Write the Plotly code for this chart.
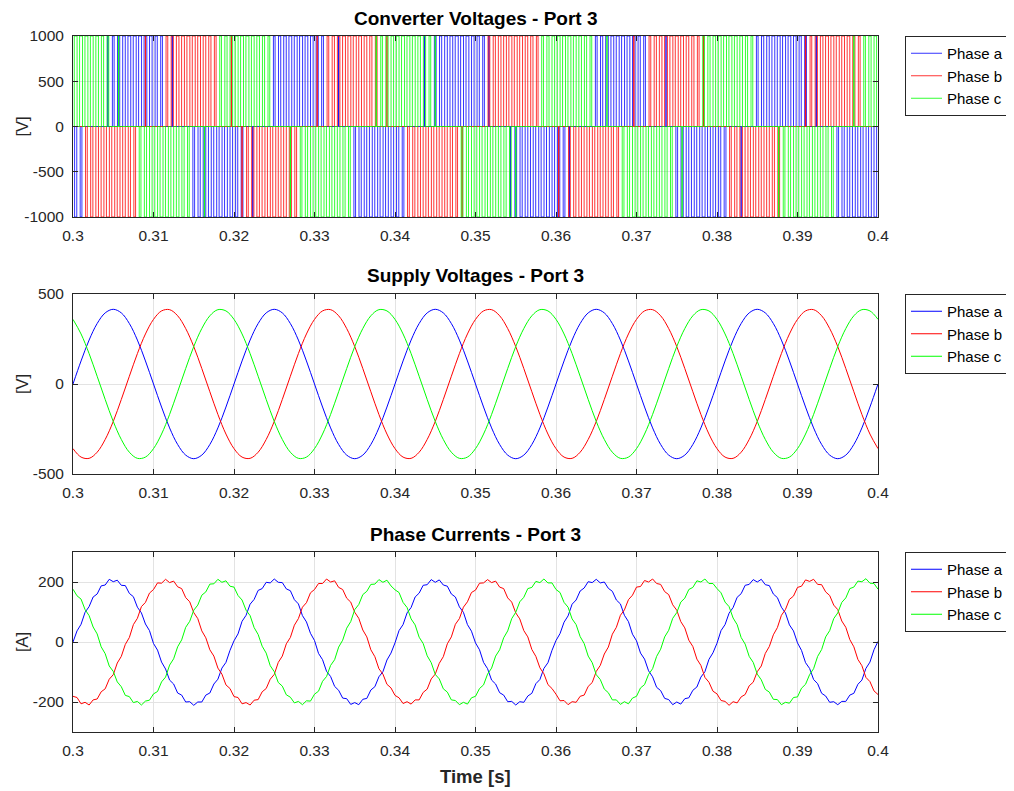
import numpy as np
import plotly.graph_objects as go

# ---------------- data ----------------
PHASES = ["Phase a", "Phase b", "Phase c"]
COLORS = ["#0000FF", "#FF0000", "#00FF00"]
T_START, T_END = 0.3, 0.4
X_TICKS = [0.3, 0.31, 0.32, 0.33, 0.34, 0.35, 0.36, 0.37, 0.38, 0.39, 0.4]
X_TICK_LABELS = ["0.3", "0.31", "0.32", "0.33", "0.34", "0.35", "0.36", "0.37", "0.38", "0.39", "0.4"]

# Converter voltages: 3-level PWM, carrier period and signed duty per carrier period
V_LEVEL = 1000
T_SW = 1 / 1500
duty_a = [
    -0.41, -0.32, 0, 0, 0, 0, 0.05, 0.32, 0.41, 0.48, 0.52, 0.55, 0.55, 0.52, 0.48, 0.41, 0.32, 0, 0.06, 0, 0, 0, -0.32, -0.41, -0.48, -0.52, -0.55, -0.55, -0.52, -0.48,
    -0.40, -0.33, 0, -0.05, 0, 0, 0, 0.31, 0.42, 0.47, 0.53, 0.54, 0.56, 0.51, 0.49, 0.40, 0.33, 0, 0, 0.05, 0, 0, -0.31, -0.42, -0.47, -0.53, -0.54, -0.56, -0.51, -0.49,
    -0.42, -0.31, 0, 0, 0, 0.06, 0, 0.33, 0.40, 0.49, 0.51, 0.56, 0.54, 0.53, 0.47, 0.42, 0.31, 0.05, 0, 0, 0, -0.06, -0.33, -0.40, -0.49, -0.51, -0.56, -0.54, -0.53, -0.47,
    -0.41, -0.32, -0.06, 0, 0, 0, 0, 0.32, 0.41, 0.48, 0.52, 0.55, 0.55, 0.52, 0.48, 0.41, 0.32, 0, 0, 0, 0.05, 0, -0.32, -0.41, -0.48, -0.52, -0.55, -0.55, -0.52, -0.48,
    -0.40, -0.33, 0, 0, -0.05, 0, 0, 0.31, 0.42, 0.47, 0.53, 0.54, 0.56, 0.51, 0.49, 0.40, 0.33, 0, 0.06, 0, 0, 0, -0.31, -0.42, -0.47, -0.53, -0.54, -0.56, -0.51, -0.49,
]
duty_b = [
    0, 0, -0.32, -0.41, -0.48, -0.52, -0.55, -0.55, -0.52, -0.48, -0.41, -0.32, 0, 0.05, 0, 0, 0, 0.32, 0.41, 0.48, 0.52, 0.55, 0.55, 0.52, 0.48, 0.41, 0.32, 0, 0, 0.06,
    0, -0.05, -0.31, -0.42, -0.47, -0.53, -0.54, -0.56, -0.51, -0.49, -0.40, -0.33, 0, 0, 0, 0.06, 0, 0.31, 0.42, 0.47, 0.53, 0.54, 0.56, 0.51, 0.49, 0.40, 0.33, 0, 0.05, 0,
    0, 0, -0.33, -0.40, -0.49, -0.51, -0.56, -0.54, -0.53, -0.47, -0.42, -0.31, -0.06, 0, 0, 0, 0, 0.33, 0.40, 0.49, 0.51, 0.56, 0.54, 0.53, 0.47, 0.42, 0.31, 0, 0, 0,
    -0.05, 0, -0.32, -0.41, -0.48, -0.52, -0.55, -0.55, -0.52, -0.48, -0.41, -0.32, 0, 0, 0.05, 0, 0, 0.32, 0.41, 0.48, 0.52, 0.55, 0.55, 0.52, 0.48, 0.41, 0.32, 0.06, 0, 0,
    0, 0, -0.31, -0.42, -0.47, -0.53, -0.54, -0.56, -0.51, -0.49, -0.40, -0.33, 0, 0, 0, 0, 0.05, 0.31, 0.42, 0.47, 0.53, 0.54, 0.56, 0.51, 0.49, 0.40, 0.33, 0, 0, 0,
]
duty_c = [
    0.52, 0.55, 0.55, 0.52, 0.48, 0.41, 0.32, 0, 0.05, 0, 0, 0, -0.32, -0.41, -0.48, -0.52, -0.55, -0.55, -0.52, -0.48, -0.41, -0.32, 0, 0, -0.06, 0, 0, 0.32, 0.41, 0.48,
    0.53, 0.54, 0.56, 0.51, 0.49, 0.40, 0.33, 0, 0, 0, -0.05, 0, -0.31, -0.42, -0.47, -0.53, -0.54, -0.56, -0.51, -0.49, -0.40, -0.33, 0, 0, 0, 0, 0.06, 0.31, 0.42, 0.47,
    0.51, 0.56, 0.54, 0.53, 0.47, 0.42, 0.31, 0.06, 0, 0, 0, 0, -0.33, -0.40, -0.49, -0.51, -0.56, -0.54, -0.53, -0.47, -0.42, -0.31, -0.05, 0, 0, 0, 0, 0.33, 0.40, 0.49,
    0.52, 0.55, 0.55, 0.52, 0.48, 0.41, 0.32, 0, 0, 0.05, 0, 0, -0.32, -0.41, -0.48, -0.52, -0.55, -0.55, -0.52, -0.48, -0.41, -0.32, 0, -0.05, 0, 0, 0, 0.32, 0.41, 0.48,
    0.53, 0.54, 0.56, 0.51, 0.49, 0.40, 0.33, 0, 0, 0, 0, -0.06, -0.31, -0.42, -0.47, -0.53, -0.54, -0.56, -0.51, -0.49, -0.40, -0.33, 0, 0, 0, 0.05, 0, 0.31, 0.42, 0.47,
]

# Supply voltages, sampled every 1 ms from 0.3 s to 0.4 s
t_supply = np.linspace(T_START, T_END, 101)
vs_a = [0, 128, 244, 336, 395, 415, 395, 336, 244, 128, 0, -128, -244, -336, -395, -415, -395, -336, -244, -128,
        0, 128, 244, 336, 395, 415, 395, 336, 244, 128, 0, -128, -244, -336, -395, -415, -395, -336, -244, -128,
        0, 128, 244, 336, 395, 415, 395, 336, 244, 128, 0, -128, -244, -336, -395, -415, -395, -336, -244, -128,
        0, 128, 244, 336, 395, 415, 395, 336, 244, 128, 0, -128, -244, -336, -395, -415, -395, -336, -244, -128,
        0, 128, 244, 336, 395, 415, 395, 336, 244, 128, 0, -128, -244, -336, -395, -415, -395, -336, -244, -128, 0]
vs_b = [-359, -406, -413, -379, -308, -208, -86, 43, 169, 278, 359, 406, 413, 379, 308, 208, 86, -43, -169, -278,
        -359, -406, -413, -379, -308, -208, -86, 43, 169, 278, 359, 406, 413, 379, 308, 208, 86, -43, -169, -278,
        -359, -406, -413, -379, -308, -208, -86, 43, 169, 278, 359, 406, 413, 379, 308, 208, 86, -43, -169, -278,
        -359, -406, -413, -379, -308, -208, -86, 43, 169, 278, 359, 406, 413, 379, 308, 208, 86, -43, -169, -278,
        -359, -406, -413, -379, -308, -208, -86, 43, 169, 278, 359, 406, 413, 379, 308, 208, 86, -43, -169, -278, -359]
vs_c = [359, 278, 169, 43, -86, -208, -308, -379, -413, -406, -359, -278, -169, -43, 86, 208, 308, 379, 413, 406,
        359, 278, 169, 43, -86, -208, -308, -379, -413, -406, -359, -278, -169, -43, 86, 208, 308, 379, 413, 406,
        359, 278, 169, 43, -86, -208, -308, -379, -413, -406, -359, -278, -169, -43, 86, 208, 308, 379, 413, 406,
        359, 278, 169, 43, -86, -208, -308, -379, -413, -406, -359, -278, -169, -43, 86, 208, 308, 379, 413, 406,
        359, 278, 169, 43, -86, -208, -308, -379, -413, -406, -359, -278, -169, -43, 86, 208, 308, 379, 413, 406, 359]

# Phase currents, sampled every 0.5 ms from 0.3 s to 0.4 s
t_current = np.linspace(T_START, T_END, 201)
i_a = [0, 37, 59, 99, 118, 150, 160, 187, 190, 209, 201, 206, 189, 188, 162, 151, 116, 97, 60, 38,
       -5, -27, -67, -90, -127, -140, -170, -177, -200, -199, -211, -200, -200, -177, -170, -140, -124, -87, -68, -28,
       4, 27, 69, 89, 126, 142, 172, 178, 199, 197, 210, 199, 198, 177, 171, 141, 127, 88, 67, 29,
       5, -38, -59, -98, -115, -148, -161, -187, -189, -208, -202, -209, -191, -188, -160, -149, -116, -99, -60, -37,
       -3, 38, 58, 97, 115, 150, 163, 189, 191, 208, 199, 207, 190, 186, 160, 150, 117, 99, 58, 36,
       -3, -26, -68, -89, -127, -140, -169, -177, -199, -198, -210, -199, -201, -180, -171, -139, -125, -88, -69, -28,
       5, 28, 66, 87, 126, 140, 170, 180, 201, 198, 209, 197, 200, 179, 169, 140, 127, 89, 68, 26,
       4, -37, -57, -96, -116, -151, -162, -188, -192, -209, -200, -207, -189, -186, -161, -150, -117, -99, -58, -36,
       -4, 38, 58, 96, 115, 149, 161, 189, 192, 208, 200, 209, 191, 188, 160, 148, 116, 97, 57, 37,
       -3, -28, -69, -88, -125, -139, -171, -180, -201, -199, -209, -198, -198, -177, -171, -141, -127, -88, -67, -26,
       2]
i_b = [-181, -185, -206, -201, -210, -193, -190, -166, -156, -124, -109, -70, -48, -8, 15, 58, 79, 118, 132, 163,
       175, 197, 196, 209, 198, 203, 184, 178, 148, 134, 98, 78, 37, 14, -26, -47, -87, -107, -143, -155,
       -182, -185, -206, -202, -210, -194, -192, -166, -155, -124, -108, -68, -47, -6, 15, 56, 78, 116, 131, 164,
       175, 195, 195, 210, 200, 204, 182, 175, 146, 133, 99, 79, 40, 17, -26, -49, -89, -107, -141, -153,
       -178, -186, -205, -199, -207, -193, -193, -168, -157, -123, -107, -71, -49, -6, 17, 59, 78, 116, 134, 165,
       173, 196, 197, 208, 198, 203, 183, 178, 147, 133, 97, 77, 38, 17, -25, -48, -86, -106, -142, -155,
       -174, -196, -195, -209, -199, -201, -181, -177, -148, -135, -98, -78, -40, -17, 26, 49, 89, 107, 141, 156,
       183, 185, 205, 200, 210, 195, 192, 168, 158, 124, 106, 68, 47, 6, -15, -57, -78, -118, -134, -164,
       -173, -195, -198, -211, -199, -203, -183, -175, -146, -134, -99, -80, -38, -15, 24, 48, 89, 108, 142, 153,
       182, 186, 207, 202, 209, 192, 191, 167, 155, 123, 108, 70, 49, 8, -16, -58, -79, -118, -132, -163,
       -175]
i_c = [176, 154, 143, 108, 88, 50, 27, -16, -39, -80, -98, -133, -149, -178, -182, -202, -198, -210, -197, -194,
       -173, -165, -133, -117, -77, -56, -16, 7, 49, 69, 106, 123, 156, 167, 193, 194, 209, 199, 204, 186,
       183, 155, 140, 106, 88, 48, 25, -14, -37, -79, -99, -135, -147, -176, -184, -203, -198, -209, -196, -197,
       -174, -164, -131, -115, -78, -59, -17, 6, 46, 68, 108, 125, 158, 169, 192, 193, 208, 199, 206, 187,
       174, 165, 132, 115, 77, 57, 16, -5, -46, -69, -108, -123, -156, -167, -193, -195, -209, -201, -207, -186,
       -181, -155, -143, -107, -87, -47, -26, 14, 37, 78, 99, 134, 149, 178, 182, 202, 198, 210, 197, 197,
       175, 165, 132, 116, 77, 58, 18, -5, -47, -69, -109, -125, -157, -169, -193, -193, -208, -199, -206, -187,
       -181, -153, -142, -108, -89, -48, -24, 17, 39, 79, 98, 133, 146, 175, 182, 204, 200, 210, 195, 195,
       178, 164, 133, 118, 80, 58, 15, -7, -48, -68, -107, -126, -158, -167, -191, -192, -209, -201, -204, -185,
       -183, -154, -141, -109, -89, -48, -25, 17, 38, 78, 97, 132, 147, 178, 183, 203, 201, 211, 196, 195,
       176]

# ---------------- figure ----------------
OFF = 8                      # page margin around the figure
W, H = 1014 - OFF, 791 - OFF
FONT = "Liberation Sans, Arial, Helvetica, sans-serif"
AX_COLOR = "#262626"
GRID = "#e3e3e3"


def fx(px):
    return (px - OFF) / W


def fy(py):
    return 1 - (py - OFF) / H


def pwm_xy(duties):
    xs, ys = [], []
    for k, d in enumerate(duties):
        t0 = T_START + k * T_SW
        if d == 0:
            xs.append(t0)
            ys.append(0)
            continue
        lev = V_LEVEL if d > 0 else -V_LEVEL
        ts = t0 + (1 - abs(d)) / 2 * T_SW
        te = t0 + (1 + abs(d)) / 2 * T_SW
        xs += [t0, ts, ts, te, te]
        ys += [0, 0, lev, lev, 0]
    xs.append(T_END)
    ys.append(0)
    return xs, ys


fig = go.Figure()

x_dom = [fx(73), fx(878)]
panels = [
    dict(top=36, bot=217, yr=[-1000, 1000], yt=[-1000, -500, 0, 500, 1000],
         ytl=["-1000", "-500", "0", "500", "1000"], title="Converter Voltages - Port 3", ylab="[V]"),
    dict(top=294, bot=474, yr=[-500, 500], yt=[-500, 0, 500],
         ytl=["-500", "0", "500"], title="Supply Voltages - Port 3", ylab="[V]"),
    dict(top=552, bot=732, yr=[-300, 300], yt=[-200, 0, 200],
         ytl=["-200", "0", "200"], title="Phase Currents - Port 3", ylab="[A]"),
]

legend_names = ["legend", "legend2", "legend3"]

# panel 1: converter voltages
for name, col, d in zip(PHASES, COLORS, [duty_a, duty_b, duty_c]):
    xs, ys = pwm_xy(d)
    fig.add_trace(go.Scatter(x=xs, y=ys, mode="lines", name=name, line=dict(color=col, width=0.8),
                             xaxis="x", yaxis="y", legend="legend"))
# panel 2: supply voltages
for name, col, v in zip(PHASES, COLORS, [vs_a, vs_b, vs_c]):
    fig.add_trace(go.Scatter(x=t_supply, y=v, mode="lines", name=name,
                             line=dict(color=col, width=1, shape="spline", smoothing=1.0),
                             xaxis="x2", yaxis="y2", legend="legend2"))
# panel 3: currents
for name, col, v in zip(PHASES, COLORS, [i_a, i_b, i_c]):
    fig.add_trace(go.Scatter(x=t_current, y=v, mode="lines", name=name, line=dict(color=col, width=1),
                             xaxis="x3", yaxis="y3", legend="legend3"))

layout = dict(
    width=W, height=H, margin=dict(l=0, r=0, t=0, b=0, pad=0, autoexpand=False),
    paper_bgcolor="white", plot_bgcolor="white",
    font=dict(family=FONT, size=15.5, color=AX_COLOR),
    showlegend=True,
)

annotations = []
for i, p in enumerate(panels):
    sfx = "" if i == 0 else str(i + 1)
    y_dom = [fy(p["bot"]), fy(p["top"])]
    layout["xaxis" + sfx] = dict(
        domain=x_dom, range=[T_START, T_END], tickvals=X_TICKS, ticktext=X_TICK_LABELS,
        anchor="y" + sfx, showgrid=True, gridcolor=GRID, gridwidth=1, zeroline=False,
        showline=True, linecolor=AX_COLOR, linewidth=1, mirror="allticks",
        ticks="inside", ticklen=5, tickcolor=AX_COLOR, ticklabelstandoff=4,
        tickfont=dict(size=15.5, color=AX_COLOR), automargin=False,
    )
    layout["yaxis" + sfx] = dict(
        domain=y_dom, range=p["yr"], tickvals=p["yt"], ticktext=p["ytl"], anchor="x" + sfx,
        showgrid=True, gridcolor=GRID, gridwidth=1, zeroline=False,
        showline=True, linecolor=AX_COLOR, linewidth=1, mirror="allticks",
        ticks="inside", ticklen=5, tickcolor=AX_COLOR, ticklabelstandoff=5,
        tickfont=dict(size=15.5, color=AX_COLOR), automargin=False,
    )
    layout[legend_names[i]] = dict(
        x=fx(905), y=fy(p["top"]), xanchor="left", yanchor="top",
        bgcolor="white", bordercolor=AX_COLOR, borderwidth=1, itemwidth=31,
        font=dict(family=FONT, size=15, color="black"), tracegroupgap=0,
    )
    annotations.append(dict(
        text="<b>" + p["title"] + "</b>", x=(x_dom[0] + x_dom[1]) / 2, y=fy(p["top"] - 18),
        xref="paper", yref="paper", xanchor="center", yanchor="middle", showarrow=False,
        font=dict(family=FONT, size=19, color="black"),
    ))
    annotations.append(dict(
        text=p["ylab"], x=fx(22), y=fy((p["top"] + p["bot"]) / 2), textangle=-90,
        xref="paper", yref="paper", xanchor="center", yanchor="middle", showarrow=False,
        font=dict(family=FONT, size=16.5, color=AX_COLOR),
    ))

annotations.append(dict(
    text="<b>Time [s]</b>", x=(x_dom[0] + x_dom[1]) / 2, y=fy(776),
    xref="paper", yref="paper", xanchor="center", yanchor="middle", showarrow=False,
    font=dict(family=FONT, size=18.5, color=AX_COLOR),
))
layout["annotations"] = annotations

fig.update_layout(**layout)
fig.write_html("out.html")
